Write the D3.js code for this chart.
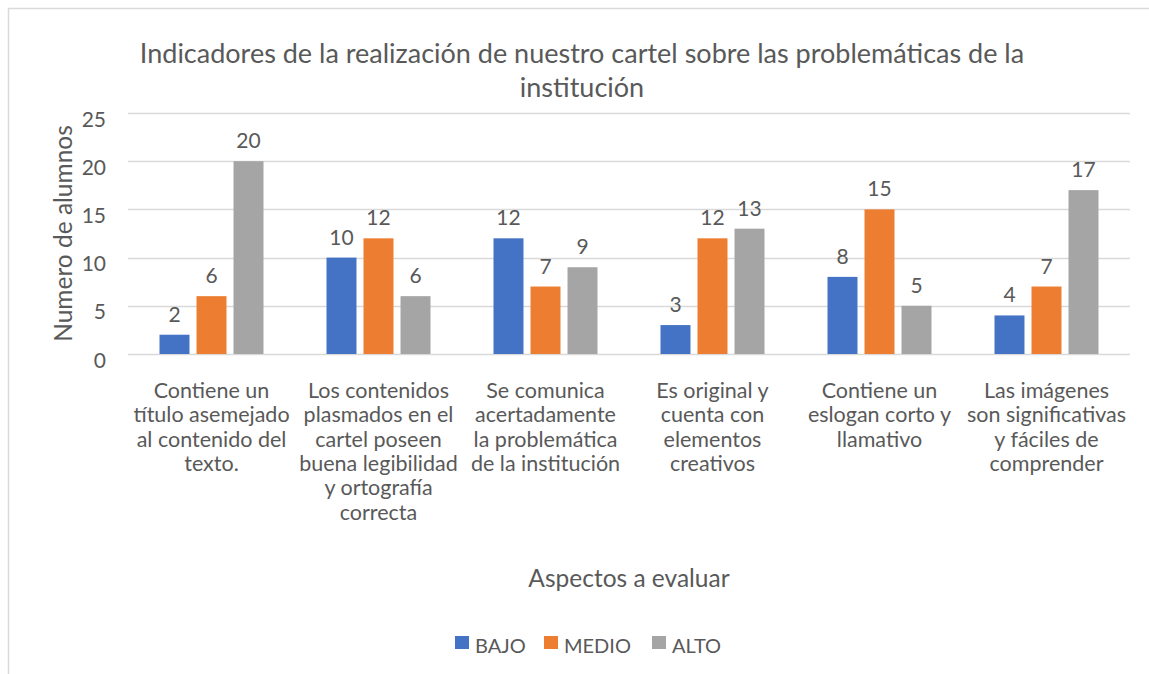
<!DOCTYPE html>
<meta charset="utf-8">
<script src="https://cdn.jsdelivr.net/npm/d3@7"></script>
<style>
  body { margin: 0; background: #fff; }
  text { font-family: Lato, "Open Sans", sans-serif; fill: #595959; }
</style>
<body>
<div id="chart"></div>
</body>
<script>
// chart data
var categories = [
  ["Contiene un", "título asemejado", "al contenido del", "texto."],
  ["Los contenidos", "plasmados en el", "cartel poseen", "buena legibilidad", "y ortografía", "correcta"],
  ["Se comunica", "acertadamente", "la problemática", "de la institución"],
  ["Es original y", "cuenta con", "elementos", "creativos"],
  ["Contiene un", "eslogan corto y", "llamativo"],
  ["Las imágenes", "son significativas", "y fáciles de", "comprender"]
];
var seriesNames = ["BAJO", "MEDIO", "ALTO"];
var bajo  = [2, 10, 12, 3, 8, 4];
var medio = [6, 12, 7, 12, 15, 7];
var alto  = [20, 6, 9, 13, 5, 17];
var yTicks = [0, 5, 10, 15, 20, 25];
var colors = ["#4472C4", "#ED7D31", "#A5A5A5"];

var W = 1149, H = 674;
var margin = {top: 113, right: 19, bottom: 320, left: 128},
    width = W - margin.left - margin.right,
    height = H - margin.top - margin.bottom;

var svg = d3.select("#chart").append("svg")
    .attr("width", W).attr("height", H);

// outer frame (cut at right and bottom like the original)
svg.append("rect")
    .attr("x", 8.5).attr("y", 8.5)
    .attr("width", W + 10).attr("height", H + 10)
    .attr("fill", "none").attr("stroke", "#d9d9d9").attr("stroke-width", 1.5);

var g = svg.append("g")
    .attr("transform", "translate(" + margin.left + "," + margin.top + ")");

var x0 = d3.scaleBand()
    .domain(d3.range(categories.length))
    .range([0, width]);

var x1 = d3.scaleBand()
    .domain(d3.range(seriesNames.length))
    .range([x0.bandwidth() / 2 - 52, x0.bandwidth() / 2 + 52])
    .paddingInner(0.19);

var y = d3.scaleLinear().domain([0, 25]).range([height, 0]);

// gridlines
g.append("g")
  .selectAll("line")
  .data(yTicks)
  .enter().append("line")
    .attr("x1", 0).attr("x2", width)
    .attr("y1", function(d) { return Math.round(y(d)) + 0.5; })
    .attr("y2", function(d) { return Math.round(y(d)) + 0.5; })
    .attr("stroke", "#d9d9d9").attr("stroke-width", 1.5);

// y axis labels
var yAxis = g.append("g")
    .call(d3.axisLeft(y).tickValues(yTicks).tickSize(0).tickPadding(22));
yAxis.select(".domain").remove();
yAxis.selectAll("text")
    .attr("dy", "0.62em")
    .style("font-size", "21px")
    .style("font-family", "Lato, sans-serif")
    .attr("fill", "#595959");

var series = [bajo, medio, alto];

var groups = g.selectAll(".grp")
  .data(categories)
  .enter().append("g")
    .attr("class", "grp")
    .attr("transform", function(d, i) { return "translate(" + x0(i) + ",0)"; });

groups.each(function(c, i) {
  var grp = d3.select(this);
  series.forEach(function(s, k) {
    grp.append("rect")
      .attr("x", x1(k))
      .attr("y", y(s[i]))
      .attr("width", x1.bandwidth())
      .attr("height", height - y(s[i]))
      .attr("fill", colors[k]);
    grp.append("text")
      .attr("x", x1(k) + x1.bandwidth() / 2)
      .attr("y", y(s[i]) - 13)
      .attr("text-anchor", "middle")
      .style("font-size", "21px")
      .text(s[i]);
  });
  // category label
  var t = grp.append("text")
      .attr("text-anchor", "middle")
      .style("font-size", "21.5px");
  c.forEach(function(line, j) {
    t.append("tspan")
      .attr("x", x0.bandwidth() / 2)
      .attr("y", 398 - margin.top + j * 24.3)
      .text(line);
  });
});

// title
var title = svg.append("text")
    .attr("text-anchor", "middle")
    .style("font-size", "27px");
title.append("tspan").attr("x", 582).attr("y", 63)
    .text("Indicadores de la realización de nuestro cartel sobre las problemáticas de la");
title.append("tspan").attr("x", 582).attr("y", 97)
    .text("institución");

// y axis title
svg.append("text")
    .attr("transform", "translate(72," + (margin.top + height / 2) + ") rotate(-90)")
    .attr("text-anchor", "middle")
    .style("font-size", "24.5px")
    .text("Numero de alumnos");

// x axis title
svg.append("text")
    .attr("x", 629).attr("y", 587)
    .attr("text-anchor", "middle")
    .style("font-size", "24.5px")
    .text("Aspectos a evaluar");

// legend
var legendX = [455, 544, 652];
var legend = svg.selectAll(".leg")
  .data(seriesNames)
  .enter().append("g")
    .attr("class", "leg")
    .attr("transform", function(d, i) { return "translate(" + legendX[i] + ",636)"; });
legend.append("rect")
    .attr("width", 14).attr("height", 13)
    .attr("fill", function(d, i) { return colors[i]; });
legend.append("text")
    .attr("x", 20).attr("y", 17)
    .style("font-size", "20px")
    .text(function(d) { return d; });
</script>
